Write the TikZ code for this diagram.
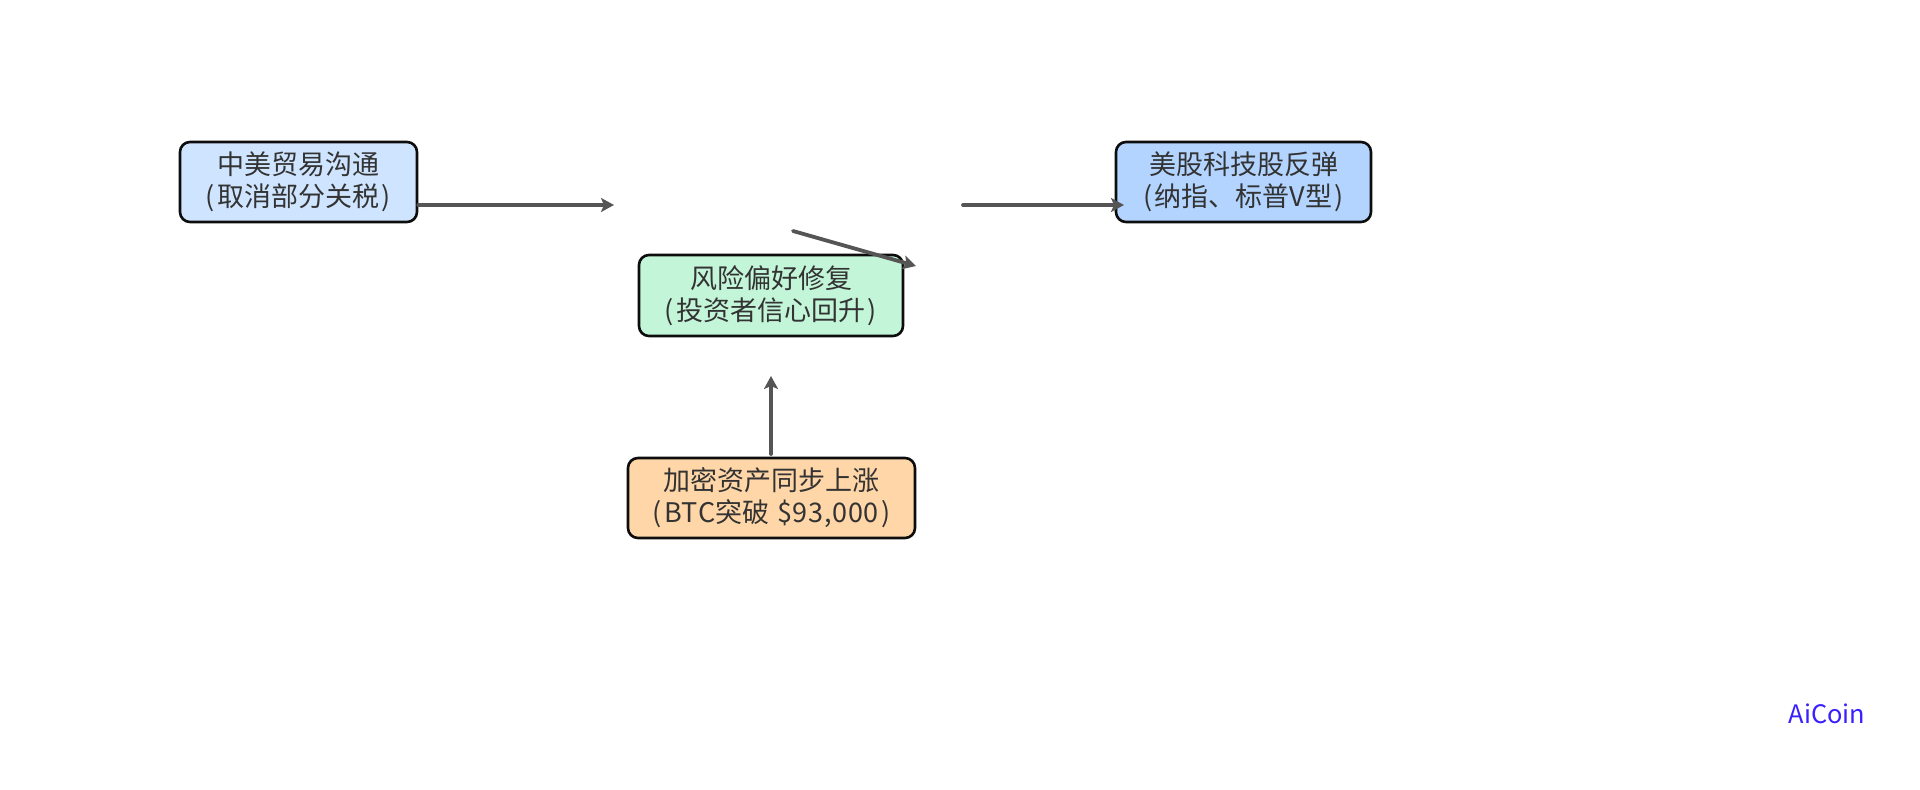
\documentclass[tikz,border=0pt]{standalone}
\usepackage{fontspec}
\setmainfont{Noto Sans CJK SC}
\usetikzlibrary{arrows.meta}
\definecolor{txt}{HTML}{333333}
\definecolor{arr}{HTML}{555555}
\definecolor{fa}{HTML}{CFE5FF}
\definecolor{fb}{HTML}{C3F5D8}
\definecolor{fc}{HTML}{FFD6A8}
\definecolor{fd}{HTML}{B2D4FF}
\definecolor{brand}{HTML}{3A1FFF}
\newcommand{\lp}{(\kern1.2pt}
\newcommand{\rp}{\kern1.2pt)}
\newcommand{\lat}[1]{{\addfontfeature{LetterSpace=2.5}#1}}
\tikzset{
  flowbox/.style={draw=black!95,line width=1.3pt,rounded corners=5pt,inner sep=0pt,text=txt,align=center,font=\fontsize{13.5pt}{16pt}\selectfont,anchor=center},
  flowarrow/.style={draw=arr,line width=1.9pt,line cap=round,-{Stealth[length=6.5pt,width=7pt,inset=1.5pt]}}
}
\begin{document}
\begin{tikzpicture}[x=0.5pt,y=-0.5pt]
\useasboundingbox (0,0) rectangle (1920,790);
\fill[white] (0,0) rectangle (1920,790);
\node[flowbox,fill=fa,minimum width=118.5pt,minimum height=40pt] (trade) at (298.5,182) {中美贸易沟通\\\lp 取消部分关税\rp};
\node[flowbox,fill=fb,minimum width=132pt,minimum height=40.5pt] (risk) at (771,295.5) {风险偏好修复\\\lp 投资者信心回升\rp};
\node[flowbox,fill=fc,minimum width=143.5pt,minimum height=40pt] (crypto) at (771.5,498) {加密资产同步上涨\\\lp\lat{BTC}突破\kern1pt\ \lat{\$93,000}\rp};
\node[flowbox,fill=fd,minimum width=127.5pt,minimum height=40pt] (stocks) at (1243.5,182) {美股科技股反弹\\\lp 纳指、标普V型\rp};
\node[text=brand,font=\fontsize{12.7pt}{15pt}\selectfont,inner sep=0pt] (brandmark) at (1827,714) {AiCoin};
\coordinate (tradeOut) at (trade.east |- 0,205);
\coordinate (a1end) at (614,205);
\coordinate (a2start) at (963,205);
\coordinate (stocksIn) at (1124,205);
\coordinate (a3start) at (793,231);
\coordinate (a3end) at (916,266);
\coordinate (cryptoOut) at (771,454);
\coordinate (a4end) at (771,376);
\draw[flowarrow] (tradeOut) -- (a1end);
\draw[flowarrow] (a2start) -- (stocksIn);
\draw[flowarrow] (a3start) -- (a3end);
\draw[flowarrow] (cryptoOut) -- (a4end);
\end{tikzpicture}
\end{document}
